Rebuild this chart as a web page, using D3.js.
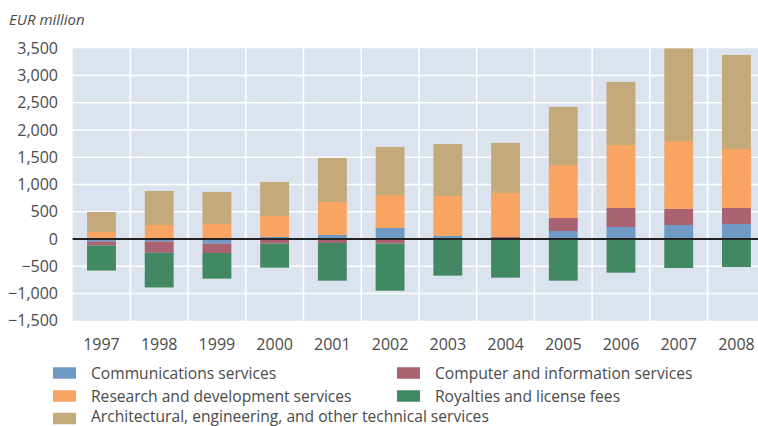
<!DOCTYPE html>
<html>
<head>
<meta charset="utf-8">
<script src="https://cdn.jsdelivr.net/npm/d3@7"></script>
<style>
  html, body { margin: 0; padding: 0; background: #ffffff; }
  svg { display: block; }
  text { font-family: "Open Sans", "DejaVu Sans", sans-serif; fill: #4a4a4a; }
</style>
</head>
<body>
<svg id="chart" width="758" height="426"></svg>
<script>
// Finnish technology-related service balances, EUR million
const years = ["1997","1998","1999","2000","2001","2002","2003","2004","2005","2006","2007","2008"];
const communications = [-45, -45, -86, 37, 73, 202, 55, 0, 147, 220, 257, 275];
const computer       = [-75, -208, -171, -86, -73, -86, 0, 37, 239, 349, 294, 294];
const research       = [130, 257, 275, 385, 606, 606, 734, 808, 973, 1157, 1248, 1083];
const royalties      = [-460, -637, -471, -440, -692, -863, -673, -710, -765, -618, -532, -514];
const architectural  = [365, 624, 588, 625, 808, 881, 955, 918, 1065, 1157, 1701, 1726];
const yTicks = [-1500, -1000, -500, 0, 500, 1000, 1500, 2000, 2500, 3000, 3500];

const seriesInfo = [
  { key: "communications", label: "Communications services", color: "#6f9ac4", values: communications },
  { key: "computer", label: "Computer and information services", color: "#a86272", values: computer },
  { key: "research", label: "Research and development services", color: "#f8a462", values: research },
  { key: "royalties", label: "Royalties and license fees", color: "#428862", values: royalties },
  { key: "architectural", label: "Architectural, engineering, and other technical services", color: "#c4a97a", values: architectural }
];

const rows = years.map((y, i) => {
  const r = { year: y };
  seriesInfo.forEach(s => { r[s.key] = s.values[i]; });
  return r;
});

const svg = d3.select("#chart");
const plot = { left: 72.6, right: 765.3, top: 48.3, bottom: 320.7 };

const x = d3.scaleBand().domain(years).range([plot.left, plot.right])
  .paddingInner(0.5).paddingOuter(0.25);
const y = d3.scaleLinear().domain([-1500, 3500]).range([plot.bottom, plot.top]);
const step = x.step();

// plot background
svg.append("rect")
  .attr("x", plot.left).attr("y", plot.top)
  .attr("width", plot.right - plot.left).attr("height", plot.bottom - plot.top)
  .attr("fill", "#dbe3ef");

// white grid
const grid = svg.append("g").attr("stroke", "#ffffff").attr("stroke-width", 1.5);
grid.selectAll("line.h").data(yTicks.filter(t => t !== 3500 && t !== -1500)).join("line")
  .attr("x1", plot.left).attr("x2", plot.right)
  .attr("y1", d => y(d)).attr("y2", d => y(d));
grid.selectAll("line.v").data(years.slice(1)).join("line")
  .attr("x1", d => x(d) - step * 0.25).attr("x2", d => x(d) - step * 0.25)
  .attr("y1", plot.top).attr("y2", plot.bottom);

// stacked bars, positive values up and negative values down
const stack = d3.stack().keys(seriesInfo.map(s => s.key)).offset(d3.stackOffsetDiverging);
const layers = stack(rows);

svg.append("clipPath").attr("id", "plotclip").append("rect")
  .attr("x", plot.left).attr("y", plot.top)
  .attr("width", plot.right - plot.left).attr("height", plot.bottom - plot.top);

svg.append("g").attr("clip-path", "url(#plotclip)")
  .selectAll("g").data(layers).join("g")
  .attr("fill", (d, i) => seriesInfo[i].color)
  .selectAll("rect").data(d => d).join("rect")
  .attr("x", d => x(d.data.year))
  .attr("width", x.bandwidth())
  .attr("y", d => y(Math.max(d[0], d[1])))
  .attr("height", d => Math.abs(y(d[0]) - y(d[1])));

// zero line
svg.append("line")
  .attr("x1", plot.left).attr("x2", plot.right)
  .attr("y1", y(0)).attr("y2", y(0))
  .attr("stroke", "#222222").attr("stroke-width", 2);

// axes
const yAxis = svg.append("g")
  .attr("transform", `translate(${plot.left},0)`)
  .call(d3.axisLeft(y).tickValues(yTicks).tickSize(0).tickPadding(14.6).tickFormat(d3.format(",")));
yAxis.select(".domain").remove();
yAxis.selectAll("text").attr("font-size", 16).attr("fill", "#4a4a4a")
  .style("font-family", '"Open Sans", sans-serif');

const xAxis = svg.append("g")
  .attr("transform", `translate(0,${plot.bottom})`)
  .call(d3.axisBottom(x).tickSize(0).tickPadding(17.6));
xAxis.select(".domain").remove();
xAxis.selectAll("text").attr("font-size", 16).attr("fill", "#4a4a4a")
  .style("font-family", '"Open Sans", sans-serif');

// unit label
svg.append("text")
  .attr("x", 9).attr("y", 25)
  .attr("font-size", 15).attr("font-style", "italic")
  .text("EUR million");

// legend, two columns
const legendPos = [
  { col: 0, row: 0 }, { col: 1, row: 0 },
  { col: 0, row: 1 }, { col: 1, row: 1 },
  { col: 0, row: 2 }
];
const colX = [53, 397];
const rowY = [373, 396, 418.5];
const legend = svg.append("g").selectAll("g").data(seriesInfo).join("g")
  .attr("transform", (d, i) => `translate(${colX[legendPos[i].col]},${rowY[legendPos[i].row]})`);
legend.append("rect")
  .attr("x", 0).attr("y", -5.75).attr("width", 23).attr("height", 11.5)
  .attr("fill", d => d.color);
legend.append("text")
  .attr("x", 38)
  .attr("y", (d, i) => legendPos[i].row === 2 ? 3.5 : 6)
  .attr("font-size", 15.6)
  .text(d => d.label);
</script>
</body>
</html>
